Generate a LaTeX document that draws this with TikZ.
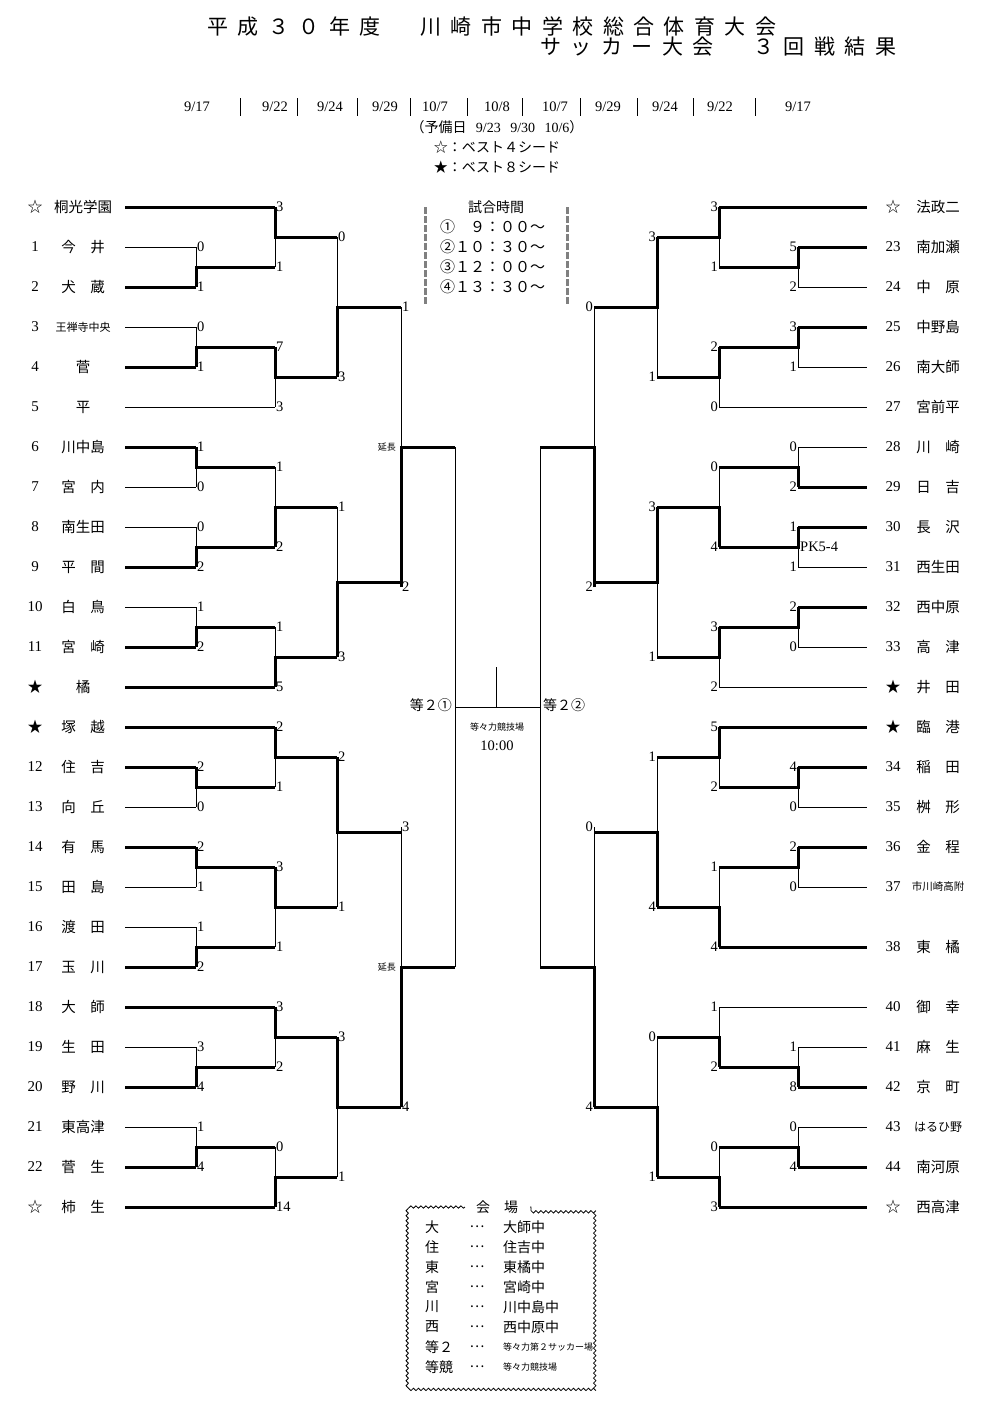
\documentclass[tikz,border=0pt]{standalone}
\usepackage{fontspec}
\setmainfont{Liberation Serif}
\newfontfamily\jp{Noto Sans CJK JP}
\newfontfamily\jpwide{Noto Sans CJK JP}[LetterSpace=45]
\usetikzlibrary{decorations.pathmorphing}

\begin{document}
\begin{tikzpicture}[x=1pt,y=-1pt,
    win/.style={line width=3pt},
    lose/.style={line width=0.8pt},
    score/.style={inner sep=1pt,font=\fontsize{14.5}{14}\selectfont},
    team/.style={inner sep=0pt,font=\jp\fontsize{14.5}{15}\selectfont},
    tnum/.style={inner sep=0pt,font=\fontsize{15}{15}\selectfont},
    small/.style={inner sep=0pt,font=\jp\fontsize{14}{15}\selectfont}]
  \useasboundingbox (0,0) rectangle (999,1401);
  % header
  \node[anchor=west,inner sep=0pt,font=\jpwide\fontsize{21}{21}\selectfont] (title1) at (207,27) {平成３０年度　川崎市中学校総合体育大会};
  \node[anchor=west,inner sep=0pt,font=\jpwide\fontsize{21}{21}\selectfont] (title2) at (540,47) {サッカー大会　３回戦結果};
  \foreach \x/\d in {197/9\slash17,275/9\slash22,330/9\slash24,385/9\slash29,435/10\slash7,497/10\slash8,555/10\slash7,608/9\slash29,665/9\slash24,720/9\slash22,798/9\slash17}
    \node[score] (d\x) at (\x,107) {\d};
  \foreach \x in {240,297,357,410,467,522,580,637,693,755}
    \draw[lose] (\x,98) -- (\x,116);
  \node[small] (spare) at (497,127) {（予備日\ \ \ {\rmfamily 9/23}\ \ \ {\rmfamily 9/30}\ \ \ {\rmfamily 10/6}）};
  \node[small] (seed4) at (497,147) {☆：ベスト４シード};
  \node[small] (seed8) at (497,167) {★：ベスト８シード};
  % match times
  \draw[gray,line width=3pt,dash pattern=on 7pt off 2pt] (425,207) -- (425,305);
  \draw[gray,line width=3pt,dash pattern=on 7pt off 2pt] (567,207) -- (567,305);
  \node[small] (times) at (496,207) {試合時間};
  \foreach \i/\t in {1/①　９：００～,2/②１０：３０～,3/③１２：００～,4/④１３：３０～}
    \node[small,anchor=west,font=\jp\fontsize{15}{15}\selectfont] (time\i) at (440,207+20*\i) {\t};
  % left teams
  \foreach \k/\n/\name/\e/\st in {0/☆/桐光学園/275/win,1/1/今　井/196/lose,2/2/犬　蔵/196/win,
      3/3/{\fontsize{11}{11}\selectfont 王禅寺中央}/196/lose,4/4/菅/196/win,5/5/平/275/lose,
      6/6/川中島/196/win,7/7/宮　内/196/lose,8/8/南生田/196/lose,9/9/平　間/196/win,
      10/10/白　鳥/196/lose,11/11/宮　崎/196/win,12/★/橘/275/win,13/★/塚　越/275/win,
      14/12/住　吉/196/win,15/13/向　丘/196/lose,16/14/有　馬/196/win,17/15/田　島/196/lose,
      18/16/渡　田/196/lose,19/17/玉　川/196/win,20/18/大　師/275/win,21/19/生　田/196/lose,
      22/20/野　川/196/win,23/21/東高津/196/lose,24/22/菅　生/196/win,25/☆/柿　生/275/win}{
    \node[tnum] (ln\k) at (35,207+40*\k) {\ifnum\k=0\jp\fi\ifnum\k>11\ifnum\k<14\jp\fi\fi\ifnum\k=25\jp\fi\n};
    \node[team] (lt\k) at (83,207+40*\k) {\name};
    \draw[\st] (125,207+40*\k) -- (\e,207+40*\k);
  }
  % right teams
  \foreach \y/\n/\name/\e/\st in {207/☆/法政二/719/win,247/23/南加瀬/798/win,287/24/中　原/798/lose,
      327/25/中野島/798/win,367/26/南大師/798/lose,407/27/宮前平/719/lose,447/28/川　崎/798/lose,
      487/29/日　吉/798/win,527/30/長　沢/798/win,567/31/西生田/798/lose,607/32/西中原/798/win,
      647/33/高　津/798/lose,687/★/井　田/719/lose,727/★/臨　港/719/win,767/34/稲　田/798/win,
      807/35/桝　形/798/lose,847/36/金　程/798/win,887/37/{\fontsize{10.5}{11}\selectfont 市川崎高附}/798/lose,
      947/38/東　橘/719/win,1007/40/御　幸/719/lose,1047/41/麻　生/798/lose,1087/42/京　町/798/win,
      1127/43/{\fontsize{12}{12}\selectfont はるひ野}/798/lose,1167/44/南河原/798/win,1207/☆/西高津/719/win}{
    \node[tnum] (rn\y) at (893,\y) {\ifnum\y=207\jp\fi\ifnum\y=687\jp\fi\ifnum\y=727\jp\fi\ifnum\y=1207\jp\fi\n};
    \node[team] (rt\y) at (938,\y) {\name};
    \draw[\st] (\e,\y) -- (867,\y);
  }
  % left matches: x/top/bottom/score top/score bottom/winner y/next x
  \foreach \x/\a/\b/\sa/\sb/\w/\nx in {196/247/287/0/1/287/275,196/327/367/0/1/367/275,
      196/447/487/1/0/447/275,196/527/567/0/2/567/275,196/607/647/1/2/647/275,
      196/767/807/2/0/767/275,196/847/887/2/1/847/275,196/927/967/1/2/967/275,
      196/1047/1087/3/4/1087/275,196/1127/1167/1/4/1167/275,
      275/207/267/3/1/207/337,275/347/407/7/3/347/337,275/467/547/1/2/547/337,
      275/627/687/1/5/687/337,275/727/787/2/1/727/337,275/867/947/3/1/867/337,
      275/1007/1067/3/2/1007/337,275/1147/1207/0/14/1207/337,
      337/237/377/0/3/377/401,337/507/657/1/3/657/401,337/757/907/2/1/757/401,
      337/1037/1177/3/1/1037/401,401/307/587/1/2/587/455,401/827/1107/3/4/1107/455}{
    \pgfmathsetmacro\m{(\a+\b)/2}
    \draw[lose] (\x,\a) -- (\x,\b);
    \draw[win] (\x,\w) -- (\x,\m) -- (\nx,\m);
    \node[score,anchor=west] at (\x,\a) {\sa};
    \node[score,anchor=west] at (\x,\b) {\sb};
  }
  % right matches
  \foreach \x/\a/\b/\sa/\sb/\w/\nx in {798/247/287/5/2/247/719,798/327/367/3/1/327/719,
      798/447/487/0/2/487/719,798/527/567/1/1/527/719,798/607/647/2/0/607/719,
      798/767/807/4/0/767/719,798/847/887/2/0/847/719,798/1047/1087/1/8/1087/719,
      798/1127/1167/0/4/1167/719,
      719/207/267/3/1/207/657,719/347/407/2/0/347/657,719/467/547/0/4/547/657,
      719/627/687/3/2/627/657,719/727/787/5/2/727/657,719/867/947/1/4/947/657,
      719/1007/1067/1/2/1067/657,719/1147/1207/0/3/1207/657,
      657/237/377/3/1/237/594,657/507/657/3/1/507/594,657/757/907/1/4/907/594,
      657/1037/1177/0/1/1177/594,594/307/587/0/2/587/540,594/827/1107/0/4/1107/540}{
    \pgfmathsetmacro\m{(\a+\b)/2}
    \draw[lose] (\x,\a) -- (\x,\b);
    \draw[win] (\x,\w) -- (\x,\m) -- (\nx,\m);
    \node[score,anchor=east] at (\x,\a) {\sa};
    \node[score,anchor=east] at (\x,\b) {\sb};
  }
  \node[score,anchor=west] (pk) at (799,547) {PK5-4};
  \node[inner sep=0pt,font=\jp\fontsize{9}{9}\selectfont,anchor=east] (ext1) at (396,447) {延長};
  \node[inner sep=0pt,font=\jp\fontsize{9}{9}\selectfont,anchor=east] (ext2) at (396,967) {延長};
  % final
  \draw[lose] (455,447) -- (455,967);
  \draw[lose] (540,447) -- (540,967);
  \draw[lose] (455,707) -- (540,707);
  \draw[lose] (496,667) -- (496,707);
  \node[small,anchor=east] (f1) at (452,705) {等２①};
  \node[small,anchor=west] (f2) at (543,705) {等２②};
  \node[inner sep=0pt,font=\jp\fontsize{9}{9}\selectfont] (venue) at (497,727) {等々力競技場};
  \node[score] (ftime) at (497,746) {10:00};
  % legend
  \begin{scope}[decoration={snake,amplitude=1.2pt,segment length=5pt},lose]
    \draw[decorate] (465,1207) -- (410,1207) -- (410,1387) -- (598,1387) -- (598,1207) -- (530,1207);
  \end{scope}
  \node[small] (legtitle) at (497,1207) {会　場};
  \foreach \i/\k/\v in {1/大/大師中,2/住/住吉中,3/東/東橘中,4/宮/宮崎中,5/川/川中島中,6/西/西中原中,
      7/等２/{\fontsize{9}{9}\selectfont 等々力第２サッカー場},8/等競/{\fontsize{9}{9}\selectfont 等々力競技場}}{
    \node[small,anchor=west] (lk\i) at (425,1207+20*\i) {\k};
    \node[small] (ld\i) at (477,1207+20*\i) {…};
    \node[small,anchor=west] (lv\i) at (503,1207+20*\i) {\v};
  }
\end{tikzpicture}
\end{document}
